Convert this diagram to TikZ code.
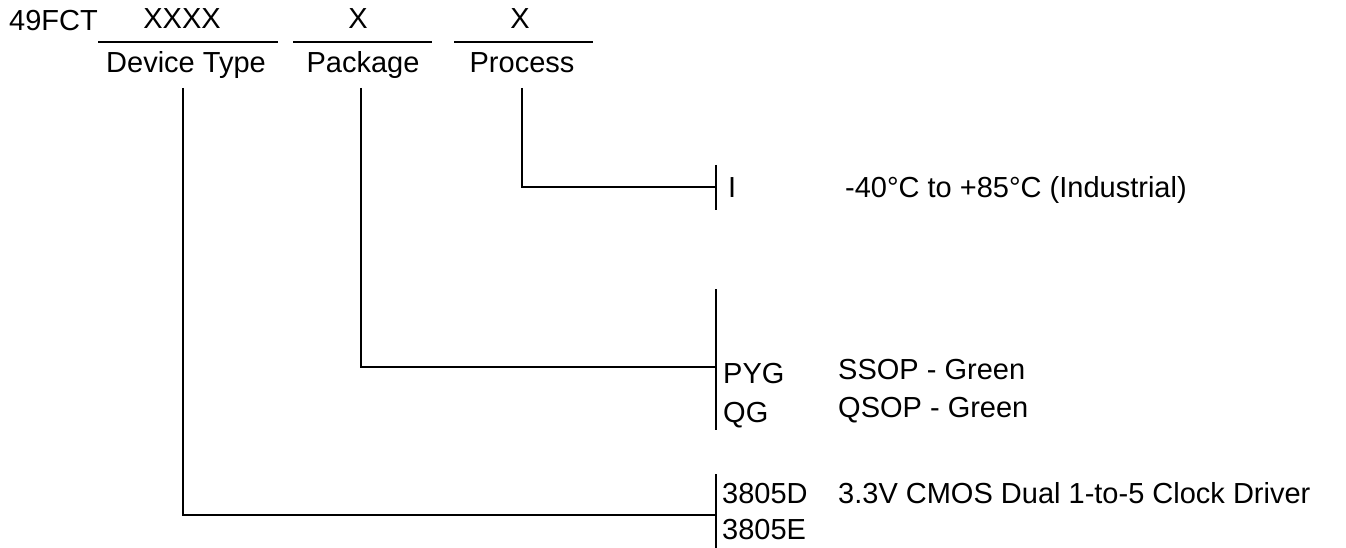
\documentclass[tikz,border=0pt]{standalone}
\usepackage{fontspec}
\setmainfont{Liberation Sans}
\usetikzlibrary{positioning}
\tikzset{
  txt/.style={inner sep=0pt, font=\fontsize{29}{34}\selectfont},
  lbl/.style={txt, anchor=base west},
  fld/.style={txt, anchor=base},
  wire/.style={line width=2pt}
}
\begin{document}
\begin{tikzpicture}[x=1pt,y=-1pt]
\useasboundingbox (0,0) rectangle (1346,548);
% part number fields
\node[lbl] (pre) at (9,31) {49FCT};
\node[fld] (x1) at (182,29) {XXXX};
\node[fld] (x2) at (358,29) {X};
\node[fld] (x3) at (520,29) {X};
\node[fld] (n1) at (186,73) {Device Type};
\node[fld] (n2) at (363,73) {Package};
\node[fld] (n3) at (522,73) {Process};
\draw[wire] (98,42) coordinate (u1) -- (278,42) coordinate (v1);
\draw[wire] (293,42) coordinate (u2) -- (432,42) coordinate (v2);
\draw[wire] (454,42) coordinate (u3) -- (593,42) coordinate (v3);
% brackets
\coordinate (b3t) at (716,165);
\coordinate (b3b) at (716,210);
\coordinate (b2t) at (716,289);
\coordinate (b2b) at (716,430);
\coordinate (b1t) at (716,474);
\coordinate (b1b) at (716,548);
\draw[wire] (b3t) -- (b3b);
\draw[wire] (b2t) -- (b2b);
\draw[wire] (b1t) -- (b1b);
% leaders
\coordinate (t3) at (522,88);
\coordinate (t2) at (361,88);
\coordinate (t1) at (183,88);
\draw[wire] (t3) |- (716,187);
\draw[wire] (t2) |- (716,367);
\draw[wire] (t1) |- (716,515);
% codes
\node[lbl] (c3) at (728,198) {I};
\node[lbl, right=117pt of c3.base west, anchor=base west] (d3) {-40°C to +85°C (Industrial)};
\node[lbl] (c2a) at (723,383) {PYG};
\node[lbl] (d2a) at (838,379) {SSOP - Green};
\node[lbl] (c2b) at (723,422) {QG};
\node[lbl] (d2b) at (838,417) {QSOP - Green};
\node[lbl] (c1a) at (722,503) {3805D};
\node[lbl] (d1a) at (838,503) {3.3V CMOS Dual 1-to-5 Clock Driver};
\node[lbl] (c1b) at (722,539) {3805E};
\end{tikzpicture}
\end{document}
